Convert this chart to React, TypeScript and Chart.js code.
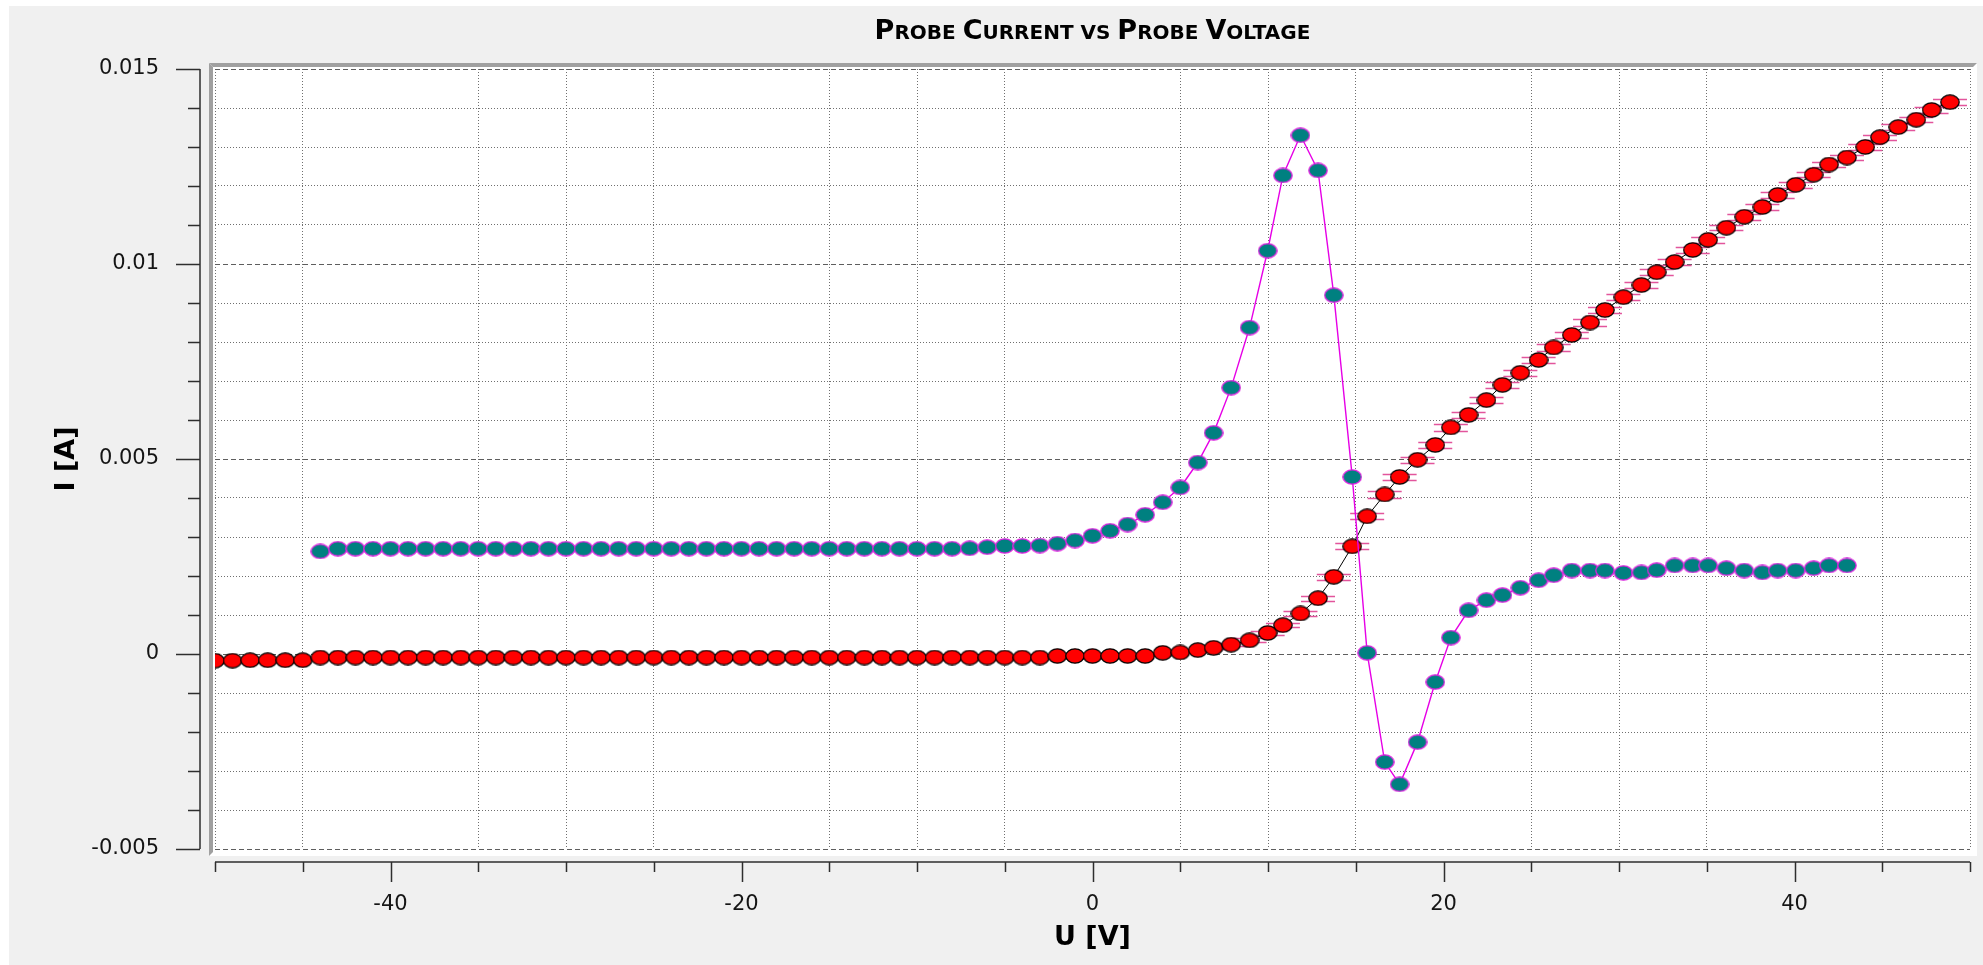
import React, { useEffect, useRef } from 'react';
import { Chart, registerables } from 'chart.js';

Chart.register(...registerables);

// Probe voltage sweep [V]
const voltage = [
  -50, -49, -48, -47, -46, -45, -44, -43, -42, -41,
  -40, -39, -38, -37, -36, -35, -34, -33, -32, -31,
  -30, -29, -28, -27, -26, -25, -24, -23, -22, -21,
  -20, -19, -18, -17, -16, -15, -14, -13, -12, -11,
  -10, -9, -8, -7, -6, -5, -4, -3, -2, -1,
  0, 1, 2, 3, 4, 5, 6, 6.9, 7.9, 8.95,
  9.98, 10.85, 11.85, 12.85, 13.75, 14.8, 15.65, 16.65, 17.5, 18.52,
  19.53, 20.42, 21.43, 22.45, 23.36, 24.38, 25.42, 26.28, 27.31, 28.35,
  29.2, 30.25, 31.28, 32.15, 33.17, 34.2, 35.08, 36.12, 37.14, 38.17,
  39.04, 40.07, 41.09, 41.97, 42.99, 44.03, 44.87, 45.91, 46.94, 47.81,
  48.86,
];

// Measured probe current [A]
const probeCurrent = [
  -0.00017, -0.00017, -0.00016, -0.00016, -0.00016, -0.00016, -0.00009, -0.00009, -0.00009, -0.00009,
  -0.00009, -0.00009, -0.00009, -0.00009, -0.00009, -0.00009, -0.00009, -0.00009, -0.00009, -0.00009,
  -0.00009, -0.00009, -0.00009, -0.00009, -0.00009, -0.00009, -0.00009, -0.00009, -0.00009, -0.00009,
  -0.00009, -0.00009, -0.00009, -0.00009, -0.00009, -0.00009, -0.00009, -0.00009, -0.00009, -0.00009,
  -0.00009, -0.00009, -0.00009, -0.00009, -0.00009, -0.00009, -0.00009, -0.00009, -0.00005, -0.00005,
  -0.00005, -0.00005, -0.00005, -0.00005, 0.00003, 0.00004, 0.0001, 0.00016, 0.00024, 0.00035,
  0.00054, 0.00074, 0.00104, 0.00143, 0.00198, 0.00276, 0.00353, 0.00409, 0.00454, 0.00498,
  0.00536, 0.00581, 0.00613, 0.00651, 0.0069, 0.00721, 0.00754, 0.00786, 0.00818, 0.0085,
  0.00882, 0.00915, 0.00946, 0.00979, 0.01005, 0.01036, 0.01062, 0.01093, 0.01121, 0.01146,
  0.01177, 0.01203, 0.01229, 0.01255, 0.01273, 0.013, 0.01325, 0.01351, 0.0137, 0.01395,
  0.01415,
];

// Second trace (teal markers) starts at this index of the voltage sweep
const derivStart = 6;
const derivCurrent = [
  0.00263, 0.0027, 0.0027, 0.0027,
  0.0027, 0.0027, 0.0027, 0.0027, 0.0027, 0.0027, 0.0027, 0.0027, 0.0027, 0.0027,
  0.0027, 0.0027, 0.0027, 0.0027, 0.0027, 0.0027, 0.0027, 0.0027, 0.0027, 0.0027,
  0.0027, 0.0027, 0.0027, 0.0027, 0.0027, 0.0027, 0.0027, 0.0027, 0.0027, 0.0027,
  0.0027, 0.0027, 0.0027, 0.00271, 0.00274, 0.00277, 0.00277, 0.00278, 0.00283, 0.00291,
  0.00303, 0.00316, 0.00332, 0.00357, 0.00389, 0.00427, 0.00491, 0.00567, 0.00683, 0.00837,
  0.01034, 0.01227, 0.0133, 0.0124, 0.0092, 0.00454, 0.00003, -0.00277, -0.00334, -0.00226,
  -0.00072, 0.00042, 0.00112, 0.00138, 0.00151, 0.0017, 0.00189, 0.00202, 0.00214, 0.00214,
  0.00214, 0.00208, 0.00209, 0.00215, 0.00227, 0.00227, 0.00227, 0.0022, 0.00214, 0.00209,
  0.00214, 0.00214, 0.0022, 0.00227, 0.00227,
];

// Current uncertainty (error-bar caps) from this index of the sweep onward
const errStart = 56;
const currentErr = [
  0.00003, 0.00004, 0.00004, 0.00005,
  0.00005, 0.00006, 0.00006, 0.00007, 0.00007, 0.00008, 0.00008, 0.00008, 0.00008, 0.00008,
  0.00008, 0.00008, 0.00008, 0.00008, 0.00008, 0.00008, 0.00008, 0.00008, 0.00008, 0.00008,
  0.00007, 0.00007, 0.00007, 0.00007, 0.00007, 0.00007, 0.00007, 0.00007, 0.00007, 0.00007,
  0.00007, 0.00007, 0.00007, 0.00007, 0.00007, 0.00007, 0.00007, 0.00007, 0.00007, 0.00007,
  0.00007,
];

const xTickValues = [-40, -20, 0, 20, 40];
const xTickLabels = ['-40', '-20', '0', '20', '40'];
const yTickValues = [-0.005, 0, 0.005, 0.01, 0.015];
const yTickLabels = ['-0.005', '0', '0.005', '0.01', '0.015'];

const titleText = 'Probe Current vs Probe Voltage';
const xTitle = 'U [V]';
const yTitle = 'I [A]';

const FONT = "'DejaVu Sans', sans-serif";
const DOTTED = '#6f6f6f';
const DASHED = '#5e5e5e';
const CLEAR = 'rgba(0,0,0,0)';

const isMajorX = (v: number) => Math.round(v) % 20 === 0;
const isMajorY = (v: number) => Math.round(v * 1000) % 5 === 0;

function labelFor(values: number[], labels: string[], v: number) {
  const i = values.findIndex((t) => Math.abs(t - v) < 1e-9);
  return i >= 0 ? labels[i] : '';
}

function ellipseMarker(fill: string, stroke: string, w: number, h: number) {
  const c = document.createElement('canvas');
  c.width = w;
  c.height = h;
  const g = c.getContext('2d')!;
  g.beginPath();
  g.ellipse(w / 2, h / 2, w / 2 - 0.8, h / 2 - 0.8, 0, 0, Math.PI * 2);
  g.fillStyle = fill;
  g.fill();
  g.lineWidth = 1.3;
  g.strokeStyle = stroke;
  g.stroke();
  return c;
}

// Window background and the sunken plot frame
const framePlugin = {
  id: 'plotFrame',
  beforeDraw(chart: any) {
    const { ctx, width, height, chartArea: a } = chart;
    ctx.save();
    ctx.fillStyle = '#ffffff';
    ctx.fillRect(0, 0, width, height);
    ctx.fillStyle = '#f0f0f0';
    ctx.fillRect(9, 6, width - 9, height - 6);
    const fl = a.left - 6, ft = a.top - 6, fr = a.right + 7, fb = a.bottom + 7;
    ctx.fillStyle = '#ffffff';
    ctx.fillRect(fl, ft, fr - fl, fb - ft);
    ctx.fillStyle = '#a0a0a0';
    ctx.beginPath();
    ctx.moveTo(fl, ft);
    ctx.lineTo(fr, ft);
    ctx.lineTo(fr - 4, ft + 4);
    ctx.lineTo(fl + 4, ft + 4);
    ctx.closePath();
    ctx.fill();
    ctx.beginPath();
    ctx.moveTo(fl, ft);
    ctx.lineTo(fl + 4, ft + 4);
    ctx.lineTo(fl + 4, fb - 4);
    ctx.lineTo(fl, fb);
    ctx.closePath();
    ctx.fill();
    ctx.restore();
  },
};

// Error-bar caps on the probe current points
const errorCapPlugin = {
  id: 'errorCaps',
  beforeDatasetsDraw(chart: any) {
    const { ctx, chartArea: a } = chart;
    const xs = chart.scales.x;
    const ys = chart.scales.y;
    ctx.save();
    ctx.beginPath();
    ctx.rect(a.left, a.top, a.right - a.left, a.bottom - a.top);
    ctx.clip();
    ctx.strokeStyle = '#e2559c';
    ctx.lineWidth = 1.5;
    currentErr.forEach((e, j) => {
      const k = errStart + j;
      const px = xs.getPixelForValue(voltage[k]);
      for (const s of [1, -1]) {
        const py = Math.round(ys.getPixelForValue(probeCurrent[k] + s * e)) + 0.5;
        ctx.beginPath();
        ctx.moveTo(px - 17, py);
        ctx.lineTo(px + 17, py);
        ctx.stroke();
      }
    });
    ctx.restore();
  },
};

// Axis backbones with major/minor tick marks, set off from the plot frame
const axesPlugin = {
  id: 'detachedAxes',
  afterDraw(chart: any) {
    const { ctx, chartArea: a } = chart;
    const xs = chart.scales.x;
    const ys = chart.scales.y;
    const axisX = a.left - 15;
    const axisY = a.bottom + 13;
    ctx.save();
    ctx.strokeStyle = '#2e2e2e';
    ctx.lineWidth = 1.5;
    ctx.beginPath();
    ctx.moveTo(axisX, ys.getPixelForValue(ys.max));
    ctx.lineTo(axisX, ys.getPixelForValue(ys.min));
    ctx.moveTo(xs.getPixelForValue(xs.min), axisY);
    ctx.lineTo(xs.getPixelForValue(xs.max), axisY);
    ctx.stroke();
    ctx.beginPath();
    for (const t of ys.ticks) {
      const py = Math.round(ys.getPixelForValue(t.value)) + 0.5;
      const len = isMajorY(t.value) ? 24 : 12;
      ctx.moveTo(axisX - len, py);
      ctx.lineTo(axisX, py);
    }
    for (const t of xs.ticks) {
      const px = Math.round(xs.getPixelForValue(t.value)) + 0.5;
      const len = isMajorX(t.value) ? 20 : 10;
      ctx.moveTo(px, axisY);
      ctx.lineTo(px, axisY + len);
    }
    ctx.stroke();
    ctx.restore();
  },
};

// Small-caps chart title
const titlePlugin = {
  id: 'smallCapsTitle',
  afterDraw(chart: any) {
    const { ctx, chartArea: a } = chart;
    const big = `bold 27px ${FONT}`;
    const small = `bold 20px ${FONT}`;
    const runs: { t: string; f: string }[] = [];
    for (const ch of titleText) {
      const isCap = ch !== ' ' && ch === ch.toUpperCase();
      const f = isCap ? big : small;
      const t = ch.toUpperCase();
      const last = runs[runs.length - 1];
      if (last && last.f === f) last.t += t;
      else runs.push({ t, f });
    }
    ctx.save();
    let total = 0;
    for (const r of runs) {
      ctx.font = r.f;
      total += ctx.measureText(r.t).width;
    }
    let x = (a.left + a.right) / 2 - total / 2;
    ctx.fillStyle = '#000000';
    ctx.textBaseline = 'alphabetic';
    ctx.textAlign = 'left';
    for (const r of runs) {
      ctx.font = r.f;
      ctx.fillText(r.t, x, 39);
      x += ctx.measureText(r.t).width;
    }
    ctx.restore();
  },
};

export default function App() {
  const canvasRef = useRef<HTMLCanvasElement | null>(null);

  useEffect(() => {
    const canvas = canvasRef.current;
    if (!canvas) return;

    const redMarker = ellipseMarker('#ff0000', '#000000', 20, 16);
    const tealMarker = ellipseMarker('#008080', '#e020e0', 20, 16);

    const currentPoints = voltage.map((u, i) => ({ x: u, y: probeCurrent[i] }));
    const derivPoints = derivCurrent.map((v, j) => ({ x: voltage[derivStart + j], y: v }));

    const tickFont = { family: FONT, size: 21 };
    const titleFont = { family: FONT, size: 27, weight: 'bold' as const };

    const chart = new Chart(canvas, {
      type: 'scatter',
      data: {
        datasets: [
          {
            data: derivPoints,
            showLine: true,
            borderColor: '#e600e6',
            borderWidth: 1.4,
            pointStyle: tealMarker,
            pointRadius: 8,
            tension: 0,
            clip: 0,
            xAxisID: 'x',
            yAxisID: 'y',
          },
          {
            data: currentPoints,
            showLine: true,
            borderColor: '#000000',
            borderWidth: 1,
            pointStyle: redMarker,
            pointRadius: 8,
            tension: 0,
            clip: 0,
            xAxisID: 'x',
            yAxisID: 'y',
          },
        ],
      },
      options: {
        animation: false,
        responsive: false,
        devicePixelRatio: 1,
        events: [],
        layout: { padding: { top: 69, right: 13, left: 0, bottom: 0 } },
        plugins: {
          legend: { display: false },
          tooltip: { enabled: false },
          title: { display: false },
        },
        scales: {
          x: {
            type: 'linear',
            position: 'bottom',
            min: -50,
            max: 50,
            ticks: {
              stepSize: 5,
              autoSkip: false,
              maxRotation: 0,
              padding: 0,
              color: '#151515',
              font: tickFont,
              callback: (v: any) => labelFor(xTickValues, xTickLabels, Number(v)),
            },
            grid: {
              drawTicks: true,
              tickLength: 43,
              tickColor: CLEAR,
              lineWidth: 1,
              color: (c: any) => (c.tick && isMajorX(c.tick.value) ? CLEAR : DOTTED),
            },
            border: { display: false, dash: [1, 2] },
            title: {
              display: true,
              text: xTitle,
              color: '#000000',
              font: titleFont,
              padding: { top: 0, bottom: 11 },
            },
            afterFit: (s: any) => {
              s.height = 116;
            },
          },
          xMajor: {
            type: 'linear',
            position: 'bottom',
            min: -50,
            max: 50,
            ticks: { display: false, stepSize: 20, padding: 0 },
            grid: {
              drawTicks: false,
              lineWidth: 1,
              color: (c: any) => (c.tick && isMajorX(c.tick.value) ? DASHED : CLEAR),
            },
            border: { display: false, dash: [5, 3] },
            afterFit: (s: any) => {
              s.height = 0;
            },
          },
          y: {
            type: 'linear',
            position: 'left',
            min: -0.005,
            max: 0.015,
            ticks: {
              stepSize: 0.001,
              autoSkip: false,
              padding: 0,
              color: '#151515',
              font: tickFont,
              callback: (v: any) => labelFor(yTickValues, yTickLabels, Number(v)),
            },
            grid: {
              drawTicks: true,
              tickLength: 56,
              tickColor: CLEAR,
              lineWidth: 1,
              color: (c: any) => (c.tick && isMajorY(c.tick.value) ? CLEAR : DOTTED),
            },
            border: { display: false, dash: [1, 2] },
            title: {
              display: true,
              text: yTitle,
              color: '#000000',
              font: titleFont,
              padding: { top: 51, bottom: 0 },
            },
            afterFit: (s: any) => {
              s.width = 215;
            },
          },
          yMajor: {
            type: 'linear',
            position: 'left',
            min: -0.005,
            max: 0.015,
            ticks: { display: false, stepSize: 0.005, padding: 0 },
            grid: { drawTicks: false, lineWidth: 1, color: DASHED },
            border: { display: false, dash: [5, 3] },
            afterFit: (s: any) => {
              s.width = 0;
            },
          },
        },
      },
      plugins: [framePlugin, errorCapPlugin, axesPlugin, titlePlugin],
    } as any);

    return () => {
      chart.destroy();
    };
  }, []);

  return (
    <div style={{ position: 'fixed', left: 0, top: 0, width: 1983, height: 965 }}>
      <canvas ref={canvasRef} width={1983} height={965} style={{ display: 'block' }} />
    </div>
  );
}
